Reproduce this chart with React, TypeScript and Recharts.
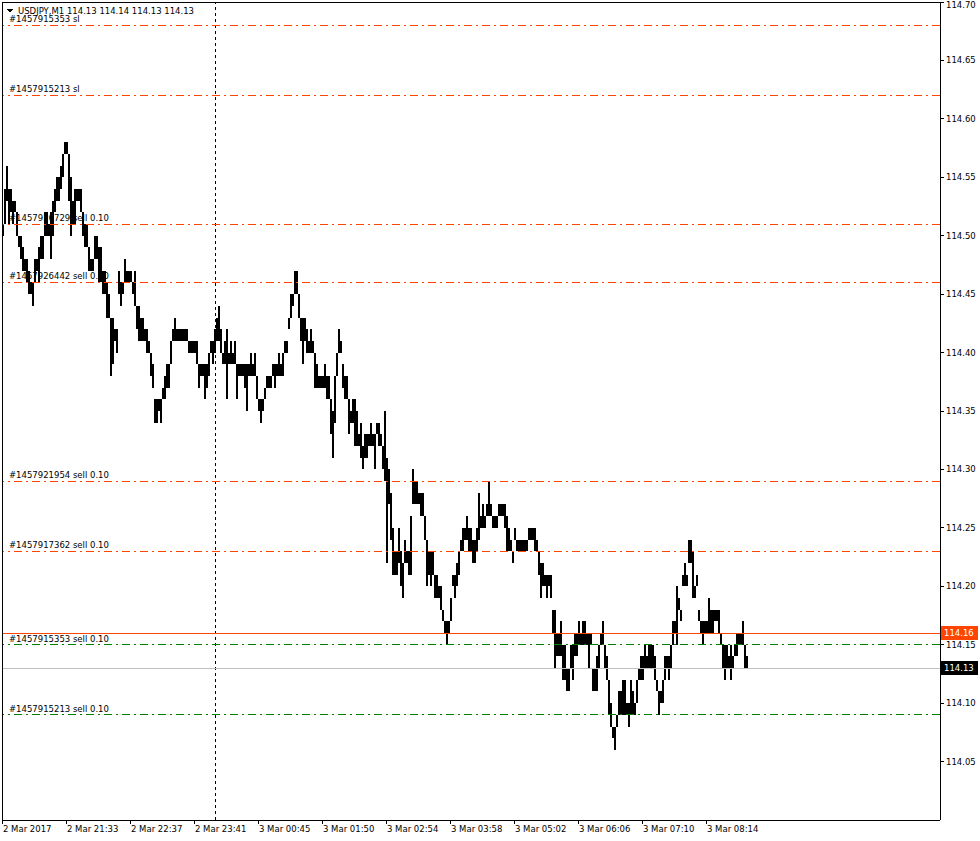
import React from 'react';
import { ComposedChart, Bar, XAxis, YAxis, ReferenceLine } from 'recharts';

const FONT = "'DejaVu Sans', sans-serif";
const ORANGE = '#ff4500';
const GREEN = '#008000';

// USDJPY M1, 2 Mar 2017 20:29 onwards, read in 2-minute buckets (high / low)
const highs = [
  114.51, 114.54, 114.56, 114.54, 114.54, 114.53, 114.53, 114.52, 114.5, 114.5,
  114.49, 114.48, 114.48, 114.47, 114.46, 114.46, 114.48, 114.48, 114.49, 114.5,
  114.5, 114.52, 114.52, 114.51, 114.52, 114.53, 114.54, 114.55, 114.55, 114.56,
  114.57, 114.58, 114.58, 114.57, 114.55, 114.53, 114.54, 114.54, 114.54, 114.54,
  114.52, 114.51, 114.51, 114.49, 114.48, 114.48, 114.5, 114.5, 114.49, 114.49,
  114.47, 114.47, 114.46, 114.45, 114.43, 114.43, 114.42, 114.42, 114.47, 114.46,
  114.46, 114.48, 114.47, 114.47, 114.47, 114.46, 114.47, 114.44, 114.44, 114.43,
  114.43, 114.42, 114.42, 114.41, 114.4, 114.39, 114.36, 114.36, 114.36, 114.36,
  114.37, 114.38, 114.39, 114.39, 114.41, 114.42, 114.43, 114.42, 114.42, 114.42,
  114.42, 114.42, 114.42, 114.41, 114.41, 114.41, 114.41, 114.41, 114.39, 114.39,
  114.39, 114.39, 114.39, 114.4, 114.41, 114.41, 114.42, 114.43, 114.44, 114.42,
  114.4, 114.41, 114.42, 114.4, 114.41, 114.4, 114.41, 114.39, 114.39, 114.39,
  114.39, 114.39, 114.39, 114.39, 114.4, 114.39, 114.4, 114.38, 114.36, 114.36,
  114.36, 114.37, 114.38, 114.38, 114.38, 114.39, 114.39, 114.39, 114.4, 114.39,
  114.4, 114.41, 114.41, 114.43, 114.45, 114.45, 114.47, 114.47, 114.45, 114.43,
  114.43, 114.43, 114.42, 114.41, 114.42, 114.41, 114.4, 114.39, 114.38, 114.38,
  114.38, 114.39, 114.38, 114.38, 114.36, 114.35, 114.38, 114.4, 114.42, 114.41,
  114.39, 114.38, 114.38, 114.36, 114.35, 114.36, 114.36, 114.35, 114.33, 114.34,
  114.32, 114.33, 114.33, 114.33, 114.34, 114.33, 114.33, 114.34, 114.34, 114.33,
  114.32, 114.35, 114.31, 114.3, 114.28, 114.25, 114.23, 114.23, 114.25, 114.23,
  114.22, 114.24, 114.23, 114.23, 114.26, 114.3, 114.29, 114.29, 114.28, 114.28,
  114.28, 114.26, 114.24, 114.23, 114.23, 114.23, 114.21, 114.21, 114.2, 114.2,
  114.18, 114.17, 114.17, 114.17, 114.19, 114.21, 114.21, 114.22, 114.23, 114.24,
  114.25, 114.25, 114.26, 114.25, 114.25, 114.24, 114.24, 114.25, 114.28, 114.26,
  114.27, 114.26, 114.27, 114.29, 114.27, 114.26, 114.26, 114.26, 114.27, 114.27,
  114.27, 114.27, 114.26, 114.25, 114.24, 114.23, 114.25, 114.24, 114.24, 114.24,
  114.24, 114.24, 114.24, 114.25, 114.25, 114.25, 114.25, 114.24, 114.23, 114.22,
  114.22, 114.21, 114.21, 114.21, 114.21, 114.18, 114.18, 114.16, 114.16, 114.17,
  114.15, 114.15, 114.13, 114.13, 114.15, 114.15, 114.16, 114.16, 114.17, 114.16,
  114.17, 114.17, 114.16, 114.16, 114.16, 114.13, 114.13, 114.14, 114.15, 114.16,
  114.17, 114.15, 114.14, 114.12, 114.1, 114.08, 114.08, 114.09, 114.11, 114.11,
  114.12, 114.12, 114.1, 114.1, 114.12, 114.11, 114.1, 114.12, 114.13, 114.14,
  114.14, 114.15, 114.14, 114.15, 114.15, 114.15, 114.14, 114.12, 114.11, 114.11,
  114.12, 114.14, 114.14, 114.14, 114.15, 114.17, 114.17, 114.2, 114.19, 114.18,
  114.21, 114.22, 114.21, 114.24, 114.24, 114.23, 114.2, 114.21, 114.18, 114.17,
  114.17, 114.17, 114.17, 114.19, 114.18, 114.18, 114.18, 114.18, 114.18, 114.16,
  114.15, 114.15, 114.15, 114.14, 114.15, 114.14, 114.15, 114.16, 114.16, 114.16,
  114.17, 114.15, 114.14,
];

const lows = [
  114.5, 114.51, 114.53, 114.51, 114.52, 114.51, 114.52, 114.5, 114.49, 114.48,
  114.47, 114.47, 114.46, 114.45, 114.45, 114.44, 114.46, 114.47, 114.46, 114.48,
  114.48, 114.5, 114.5, 114.5, 114.48, 114.5, 114.52, 114.53, 114.53, 114.54,
  114.55, 114.57, 114.57, 114.53, 114.5, 114.51, 114.51, 114.53, 114.53, 114.52,
  114.5, 114.49, 114.49, 114.47, 114.47, 114.47, 114.48, 114.48, 114.46, 114.46,
  114.45, 114.45, 114.43, 114.43, 114.38, 114.39, 114.41, 114.4, 114.45, 114.44,
  114.45, 114.46, 114.46, 114.46, 114.46, 114.45, 114.44, 114.42, 114.41, 114.41,
  114.41, 114.41, 114.4, 114.4, 114.38, 114.37, 114.34, 114.34, 114.35, 114.34,
  114.36, 114.36, 114.37, 114.37, 114.39, 114.41, 114.41, 114.41, 114.41, 114.41,
  114.41, 114.41, 114.41, 114.4, 114.4, 114.4, 114.4, 114.39, 114.37, 114.38,
  114.38, 114.36, 114.37, 114.38, 114.4, 114.39, 114.4, 114.41, 114.41, 114.4,
  114.39, 114.39, 114.36, 114.39, 114.39, 114.39, 114.39, 114.36, 114.38, 114.38,
  114.38, 114.37, 114.35, 114.38, 114.38, 114.38, 114.38, 114.36, 114.35, 114.34,
  114.35, 114.36, 114.37, 114.37, 114.37, 114.38, 114.37, 114.38, 114.38, 114.38,
  114.38, 114.4, 114.4, 114.42, 114.43, 114.44, 114.45, 114.45, 114.43, 114.41,
  114.39, 114.41, 114.4, 114.4, 114.4, 114.4, 114.37, 114.37, 114.37, 114.37,
  114.37, 114.37, 114.36, 114.36, 114.33, 114.31, 114.34, 114.38, 114.4, 114.4,
  114.37, 114.36, 114.36, 114.33, 114.34, 114.34, 114.32, 114.32, 114.32, 114.31,
  114.3, 114.31, 114.31, 114.32, 114.32, 114.32, 114.3, 114.33, 114.32, 114.32,
  114.3, 114.29, 114.22, 114.27, 114.24, 114.21, 114.21, 114.21, 114.22, 114.2,
  114.19, 114.22, 114.22, 114.21, 114.21, 114.27, 114.27, 114.27, 114.27, 114.26,
  114.26, 114.24, 114.2, 114.21, 114.2, 114.21, 114.19, 114.19, 114.19, 114.18,
  114.17, 114.16, 114.15, 114.16, 114.17, 114.2, 114.19, 114.2, 114.21, 114.23,
  114.23, 114.24, 114.24, 114.23, 114.23, 114.22, 114.22, 114.23, 114.24, 114.25,
  114.25, 114.25, 114.26, 114.26, 114.26, 114.25, 114.25, 114.25, 114.26, 114.26,
  114.26, 114.25, 114.23, 114.23, 114.23, 114.22, 114.24, 114.23, 114.23, 114.23,
  114.23, 114.23, 114.23, 114.24, 114.24, 114.24, 114.23, 114.23, 114.21, 114.19,
  114.2, 114.2, 114.19, 114.2, 114.19, 114.16, 114.13, 114.14, 114.14, 114.14,
  114.12, 114.12, 114.11, 114.11, 114.13, 114.12, 114.14, 114.14, 114.15, 114.15,
  114.15, 114.15, 114.15, 114.13, 114.15, 114.11, 114.11, 114.11, 114.13, 114.15,
  114.15, 114.13, 114.12, 114.09, 114.08, 114.07, 114.06, 114.08, 114.09, 114.09,
  114.09, 114.09, 114.09, 114.08, 114.09, 114.09, 114.09, 114.1, 114.12, 114.12,
  114.12, 114.13, 114.13, 114.13, 114.13, 114.13, 114.12, 114.11, 114.09, 114.1,
  114.1, 114.12, 114.13, 114.12, 114.13, 114.15, 114.16, 114.15, 114.18, 114.17,
  114.2, 114.2, 114.2, 114.22, 114.22, 114.19, 114.19, 114.2, 114.17, 114.16,
  114.15, 114.16, 114.16, 114.16, 114.16, 114.16, 114.17, 114.17, 114.16, 114.15,
  114.13, 114.12, 114.13, 114.13, 114.12, 114.13, 114.14, 114.14, 114.15, 114.15,
  114.15, 114.13, 114.13,
];

// 469 two-minute slots fill the visible window; only the first ones hold prices
const SLOT_COUNT = 469;
const timeTickSlots = [0, 32, 64, 96, 128, 160, 192, 224, 256, 288, 320, 352];
const timeLabels = [
  '2 Mar 2017', '2 Mar 21:33', '2 Mar 22:37', '2 Mar 23:41', '3 Mar 00:45', '3 Mar 01:50',
  '3 Mar 02:54', '3 Mar 03:58', '3 Mar 05:02', '3 Mar 06:06', '3 Mar 07:10', '3 Mar 08:14',
];
const priceTicks = [
  114.05, 114.1, 114.15, 114.2, 114.25, 114.3, 114.35, 114.4, 114.45, 114.5, 114.55,
  114.6, 114.65, 114.7,
];

const orderPrices = [114.68, 114.62, 114.51, 114.46, 114.29, 114.23, 114.15, 114.09];
const orderTexts = [
  '#1457915353 sl',
  '#1457915213 sl',
  '#1457926729 sell 0.10',
  '#1457926442 sell 0.10',
  '#1457921954 sell 0.10',
  '#1457917362 sell 0.10',
  '#1457915353 sell 0.10',
  '#1457915213 sell 0.10',
];
const orderColors = [ORANGE, ORANGE, ORANGE, ORANGE, ORANGE, ORANGE, GREEN, GREEN];

const askPrice = 114.16;
const bidPrice = 114.13;
const header = 'USDJPY,M1  114.13 114.14 114.13 114.13';

const data = Array.from({ length: SLOT_COUNT }, (_, i) => ({
  slot: i,
  range: i < highs.length ? [lows[i], highs[i]] : undefined,
}));

const TimeTick = (props: any) => {
  const { x, y, payload } = props;
  const idx = timeTickSlots.indexOf(payload.value);
  const px = x - 1;
  return (
    <g>
      <line x1={px} x2={px} y1={y} y2={y + 4} stroke="#000" />
      <text x={px + 1} y={y + 12} fontSize={8.5} fontFamily={FONT} fill="#000">
        {timeLabels[idx]}
      </text>
    </g>
  );
};

const PriceTick = (props: any) => {
  const { x, y, payload } = props;
  const ty = Math.max(y, 5);
  return (
    <g>
      <line x1={x} x2={x + 4} y1={y} y2={y} stroke="#000" />
      <text x={x + 6} y={ty} dy="0.35em" fontSize={8.5} fontFamily={FONT} fill="#000">
        {Number(payload.value).toFixed(2)}
      </text>
    </g>
  );
};

const OrderLabel = (props: any) => {
  const { viewBox, text } = props;
  return (
    <text x={viewBox.x + 7} y={viewBox.y - 3} fontSize={8.5} fontFamily={FONT} fill="#000">
      {text}
    </text>
  );
};

const PriceBox = (props: any) => {
  const { viewBox, text, bg } = props;
  const x = viewBox.x + viewBox.width + 1;
  return (
    <g>
      <rect x={x} y={viewBox.y - 7} width={37} height={14} fill={bg} />
      <text x={x + 3} y={viewBox.y} dy="0.35em" fontSize={8.5} fontFamily={FONT} fill="#fff">
        {text}
      </text>
    </g>
  );
};

export default function App() {
  return (
    <div style={{ position: 'absolute', left: 0, top: 0, width: 980, height: 841, background: '#fff', shapeRendering: 'crispEdges' }}>
      <ComposedChart
        width={980}
        height={841}
        data={data}
        margin={{ top: 2, right: 0, bottom: 0, left: 2 }}
        barCategoryGap={0}
        barGap={0}
      >
        <XAxis
          dataKey="slot"
          type="category"
          height={21}
          ticks={timeTickSlots}
          interval={0}
          tickLine={false}
          tickSize={0}
          tickMargin={0}
          axisLine={{ stroke: '#000' }}
          tick={<TimeTick />}
        />
        <YAxis
          orientation="right"
          width={40}
          domain={[114, 114.7]}
          allowDataOverflow
          ticks={priceTicks}
          interval={0}
          tickLine={false}
          tickSize={0}
          tickMargin={0}
          axisLine={{ stroke: '#000' }}
          tick={<PriceTick />}
        />
        <Bar dataKey="range" fill="#000" barSize={2} isAnimationActive={false} />
        <ReferenceLine x={106} stroke="#000" strokeDasharray="3 3" />
        <ReferenceLine y={bidPrice} stroke="#c0c0c0" label={<PriceBox text={bidPrice.toFixed(2)} bg="#000" />} />
        <ReferenceLine y={askPrice} stroke={ORANGE} label={<PriceBox text={askPrice.toFixed(2)} bg={ORANGE} />} />
        {orderPrices.map((p, i) => (
          <ReferenceLine
            key={p}
            y={p}
            stroke={orderColors[i]}
            strokeDasharray="8 4 2 4"
            label={<OrderLabel text={orderTexts[i]} />}
          />
        ))}
      </ComposedChart>
      <div style={{ position: 'absolute', left: 2, top: 2, width: 938, height: 818, borderLeft: '1px solid #000', borderTop: '1px solid #000', pointerEvents: 'none' }} />
      <svg width={220} height={20} style={{ position: 'absolute', left: 0, top: 0 }}>
        <polygon points="7,9 13,9 10,13" fill="#000" />
        <text x={18} y={14} fontSize={8.5} fontFamily={FONT} fill="#000">{header}</text>
      </svg>
    </div>
  );
}
